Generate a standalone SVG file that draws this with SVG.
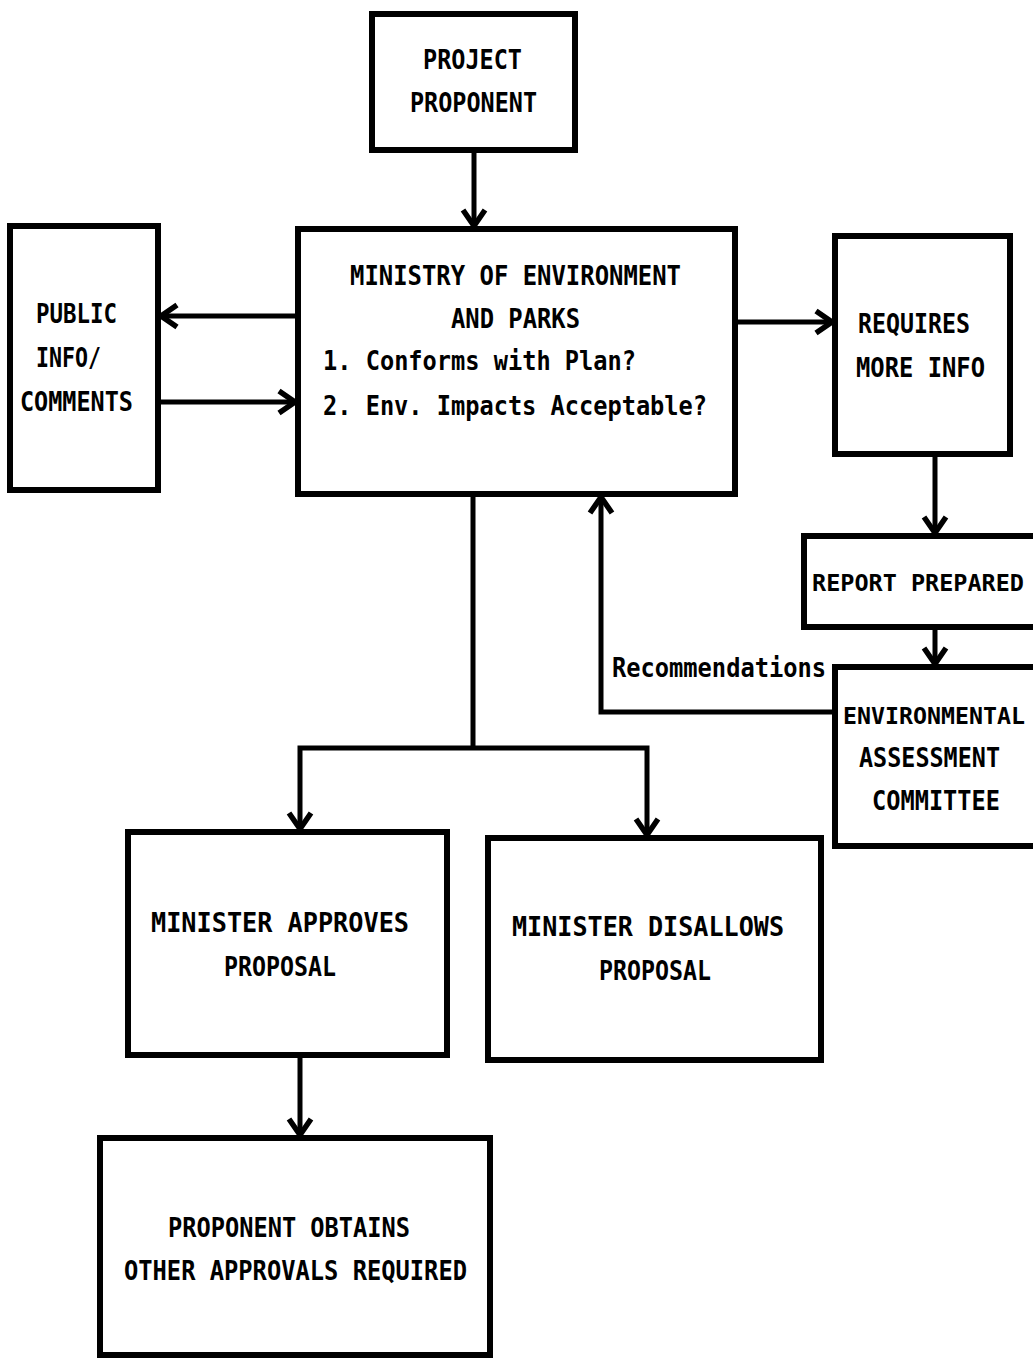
<svg xmlns="http://www.w3.org/2000/svg" width="1033" height="1358" viewBox="0 0 1033 1358">
<style>
.box{fill:#fff;stroke:#000;stroke-width:6}
.ln{fill:none;stroke:#000;stroke-width:5}
.arr{marker-end:url(#ah)}
text{font-family:"DejaVu Sans Mono","Liberation Mono",monospace;font-size:27px;font-weight:bold;fill:#000}
.edge{font-size:23.5px}
</style>
<defs>
<marker id="ah" markerUnits="userSpaceOnUse" viewBox="-20 -14 22 28" markerWidth="22" markerHeight="28" refX="0" refY="0" orient="auto" overflow="visible">
<path d="M-16,-11 L0,0 L-16,11" fill="none" stroke="#000" stroke-width="5.5" stroke-linejoin="miter"/>
</marker>
</defs>
<rect width="1033" height="1358" fill="#fff"/>
<g id="connectors">
<path class="ln arr" d="M474,150 V226"/>
<path class="ln arr" d="M298,316 H161"/>
<path class="ln arr" d="M158,402 H295"/>
<path class="ln arr" d="M735,322 H832"/>
<path class="ln arr" d="M935,454 V533"/>
<path class="ln arr" d="M935,627 V664"/>
<path class="ln arr" d="M835,712 H601 V497"/>
<path class="ln" d="M473,494 V748"/>
<path class="ln arr" d="M473,748 H300 V829"/>
<path class="ln arr" d="M473,748 H647 V835"/>
<path class="ln arr" d="M300,1055 V1135"/>
</g>
<g id="project-proponent">
<rect class="box" x="372" y="14" width="203" height="136"/>
<text x="423" y="69" textLength="99" lengthAdjust="spacingAndGlyphs">PROJECT</text>
<text x="410" y="112" textLength="127" lengthAdjust="spacingAndGlyphs">PROPONENT</text>
</g>
<g id="ministry">
<rect class="box" x="298" y="229" width="437" height="265"/>
<text x="350" y="285" textLength="331" lengthAdjust="spacingAndGlyphs">MINISTRY OF ENVIRONMENT</text>
<text x="451" y="328" textLength="129" lengthAdjust="spacingAndGlyphs">AND PARKS</text>
<text x="323" y="370" textLength="313" lengthAdjust="spacingAndGlyphs">1. Conforms with Plan?</text>
<text x="323" y="415" textLength="384" lengthAdjust="spacingAndGlyphs">2. Env. Impacts Acceptable?</text>
</g>
<g id="public-info">
<rect class="box" x="10" y="226" width="148" height="264"/>
<text x="36" y="323" textLength="81" lengthAdjust="spacingAndGlyphs">PUBLIC</text>
<text x="36" y="367" textLength="65" lengthAdjust="spacingAndGlyphs">INFO/</text>
<text x="20" y="411" textLength="113" lengthAdjust="spacingAndGlyphs">COMMENTS</text>
</g>
<g id="requires-more-info">
<rect class="box" x="835" y="236" width="175" height="218"/>
<text x="858" y="333" textLength="112" lengthAdjust="spacingAndGlyphs">REQUIRES</text>
<text x="856" y="377" textLength="129" lengthAdjust="spacingAndGlyphs">MORE  INFO</text>
</g>
<g id="report-prepared">
<rect class="box" x="804" y="536" width="240" height="91"/>
<text class="edge" x="812" y="591" textLength="212" lengthAdjust="spacingAndGlyphs">REPORT PREPARED</text>
</g>
<g id="recommendations-label">
<text x="612" y="677" textLength="214" lengthAdjust="spacingAndGlyphs">Recommendations</text>
</g>
<g id="env-assessment-committee">
<rect class="box" x="835" y="667" width="210" height="179"/>
<text class="edge" x="843" y="724" textLength="182" lengthAdjust="spacingAndGlyphs">ENVIRONMENTAL</text>
<text x="859" y="767" textLength="141" lengthAdjust="spacingAndGlyphs">ASSESSMENT</text>
<text x="872" y="810" textLength="128" lengthAdjust="spacingAndGlyphs">COMMITTEE</text>
</g>
<g id="minister-approves">
<rect class="box" x="128" y="832" width="319" height="223"/>
<text x="151" y="932" textLength="258" lengthAdjust="spacingAndGlyphs">MINISTER  APPROVES</text>
<text x="224" y="976" textLength="112" lengthAdjust="spacingAndGlyphs">PROPOSAL</text>
</g>
<g id="minister-disallows">
<rect class="box" x="488" y="838" width="333" height="222"/>
<text x="512" y="936" textLength="272" lengthAdjust="spacingAndGlyphs">MINISTER  DISALLOWS</text>
<text x="599" y="980" textLength="112" lengthAdjust="spacingAndGlyphs">PROPOSAL</text>
</g>
<g id="proponent-obtains">
<rect class="box" x="100" y="1138" width="390" height="217"/>
<text x="168" y="1237" textLength="242" lengthAdjust="spacingAndGlyphs">PROPONENT OBTAINS</text>
<text x="124" y="1280" textLength="343" lengthAdjust="spacingAndGlyphs">OTHER APPROVALS REQUIRED</text>
</g>
</svg>
